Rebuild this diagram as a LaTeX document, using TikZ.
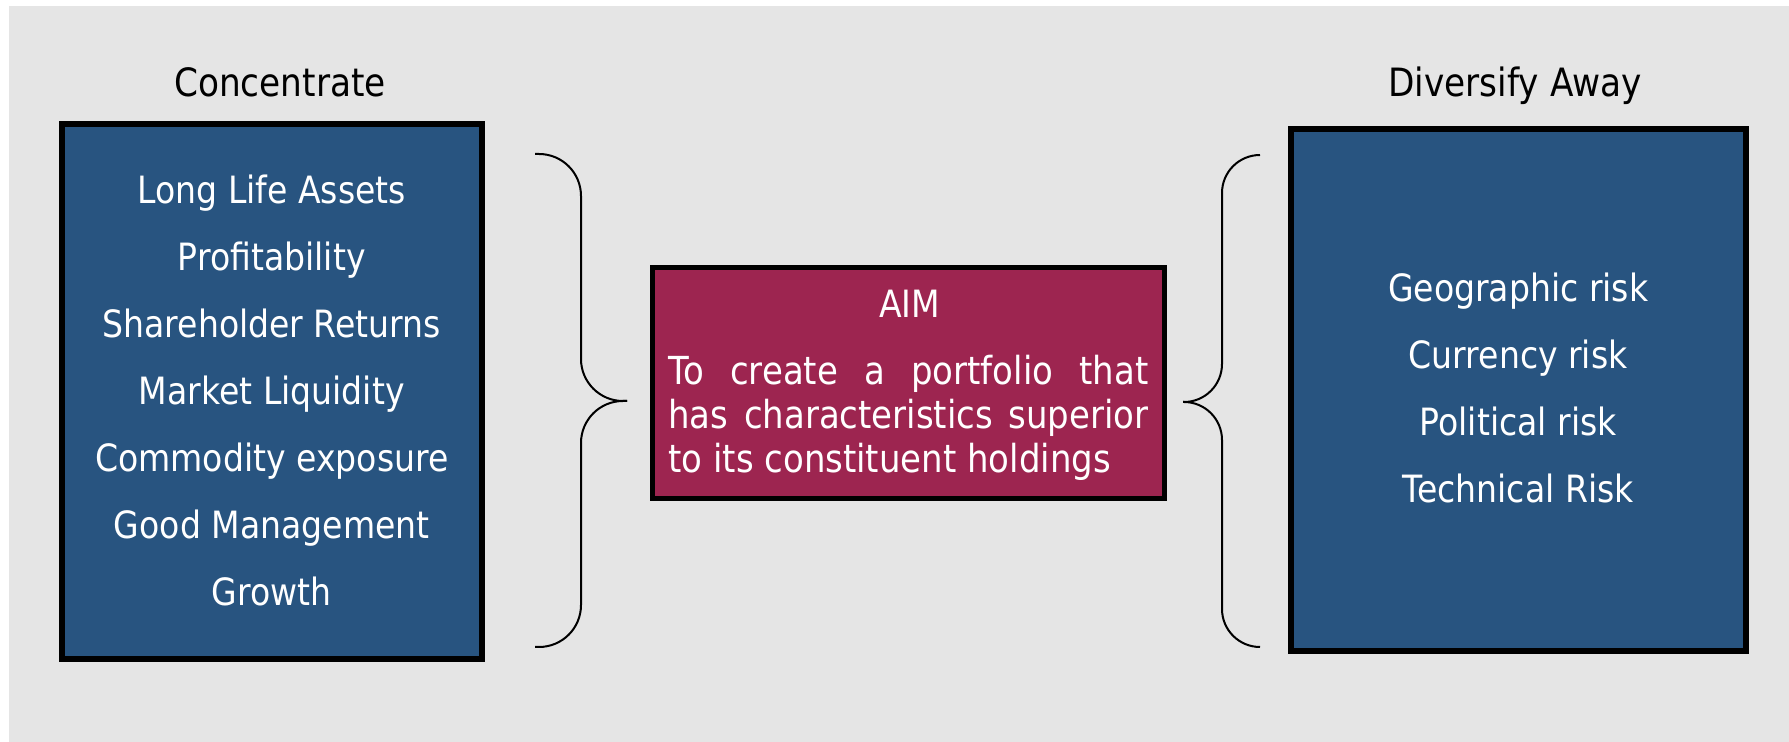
\documentclass[tikz,border=0pt]{standalone}
\usepackage{fontspec}
\setmainfont{DejaVu Sans}[FakeStretch=0.88]
\definecolor{bgray}{RGB}{229,229,229}
\definecolor{boxblue}{RGB}{40,84,128}
\definecolor{aimred}{RGB}{157,37,80}
\tikzset{
  panel/.style={draw=black, line width=3pt, fill=boxblue, inner sep=0pt},
  aimbox/.style={draw=black, line width=2.7pt, fill=aimred, inner sep=0pt},
  item/.style={text=white, font=\fontsize{18.8pt}{22pt}\selectfont, anchor=base, inner sep=0pt},
  aimtext/.style={text=white, font=\fontsize{19.3pt}{22pt}\selectfont, anchor=base west, inner sep=0pt},
  heading/.style={text=black, font=\fontsize{19.5pt}{23pt}\selectfont, anchor=base, inner sep=0pt},
  bracel/.style={draw=black, line width=1pt, rounded corners=21pt},
  bracer/.style={draw=black, line width=1pt, rounded corners=19pt}
}
\begin{document}
\begin{tikzpicture}[x=0.5pt,y=-0.5pt]
\useasboundingbox (0,0) rectangle (1789,742);
\fill[white] (0,0) rectangle (1789,742);
\fill[bgray] (9,6) rectangle (1789,742);

% boxes
\node[panel, minimum width=210.25pt, minimum height=267.65pt] (left) at (271.75,391.35) {};
\node[panel, minimum width=227.65pt, minimum height=261pt] (right) at (1518.15,390) {};
\node[aimbox, minimum width=255.9pt, minimum height=115.7pt] (aim) at (908.4,383) {};

% headings
\node[heading] (hl) at (280,96.7) {Concentrate};
\node[heading] (hr) at (1515,96.7) {Diversify Away};

% left items
\node[item] (l1) at (271.75,204) {Long Life Assets};
\node[item] (l2) at (271.75,270.9) {Profitability};
\node[item] (l3) at (271.75,337.8) {Shareholder Returns};
\node[item] (l4) at (271.75,404.7) {Market Liquidity};
\node[item] (l5) at (271.75,471.6) {Commodity exposure};
\node[item] (l6) at (271.75,538.5) {Good Management};
\node[item] (l7) at (271.75,605.4) {Growth};

% right items
\node[item] (r1) at (1518.15,302) {Geographic risk};
\node[item] (r2) at (1518.15,369) {Currency risk};
\node[item] (r3) at (1518.15,436) {Political risk};
\node[item] (r4) at (1518.15,503) {Technical Risk};

% aim text
\node[item] (a0) at (909.5,318) {AIM};
\node[aimtext] (a1) at (668,385) {\makebox[240pt][s]{To create a portfolio that}};
\node[aimtext] (a2) at (668,429) {\makebox[240pt][s]{has characteristics superior}};
\node[aimtext] (a3) at (668,473) {to its constituent holdings};

% braces
\coordinate (lt) at (535,154);
\coordinate (ltip) at (627,401);
\coordinate (lb) at (535,647);
\draw[bracel] (lt) -- (581,154) -- (581,401) -- (ltip);
\draw[bracel] (ltip) -- (581,401) -- (581,647) -- (lb);

\coordinate (rt) at (1260,155);
\coordinate (rtip) at (1183,402);
\coordinate (rb) at (1260,647);
\draw[bracer] (rt) -- (1222,155) -- (1222,402) -- (rtip);
\draw[bracer] (rtip) -- (1222,402) -- (1222,647) -- (rb);
\end{tikzpicture}
\end{document}
